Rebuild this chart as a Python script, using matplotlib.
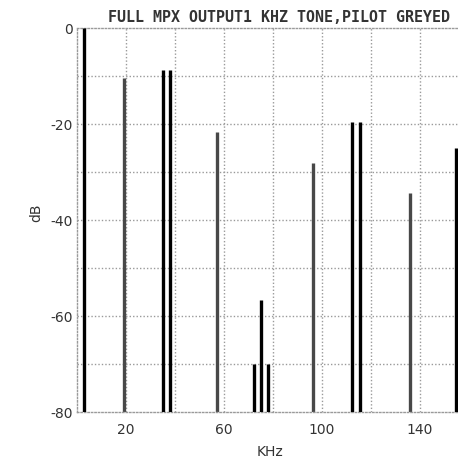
import numpy as np
import matplotlib
matplotlib.use("Agg")
from matplotlib import pyplot as plt

# spectrum lines (kHz, dB)
tone_khz = [2.8, 35.0, 38.1, 72.2, 75.3, 78.0, 112.5, 115.8, 154.9]
tone_db = [0.0, -8.7, -8.7, -70.0, -56.6, -70.0, -19.5, -19.5, -25.0]
grey_khz = [19.3, 57.0, 96.2, 136.0]
grey_db = [-10.4, -21.6, -28.2, -34.4]

xticks = [20, 60, 100, 140]
yticks = [0, -20, -40, -60, -80]

fig = plt.figure(figsize=(4.58, 4.62), dpi=100)
ax = fig.add_axes([77 / 458, 1 - 412 / 462, 1 - 77 / 458 + 0.01, 384 / 462])

ax.set_xlim(0, 157.5)
ax.set_ylim(-80, 0)

# dotted grid, every 20 kHz and every 10 dB
for gx in np.arange(20, 160, 20):
    ax.axvline(gx, color="#9a9a9a", lw=1.0, ls=(0, (1, 1.5)), zorder=1)
for gy in np.arange(-70, 0, 10):
    ax.axhline(gy, color="#9a9a9a", lw=1.0, ls=(0, (1, 1.5)), zorder=1)

ax.vlines(grey_khz, -80, grey_db, color="#484848", lw=2.4, zorder=2)
ax.vlines(tone_khz, -80, tone_db, color="black", lw=2.4, zorder=3)

for s in ["left", "top", "bottom"]:
    ax.spines[s].set_color("#9a9a9a")
    ax.spines[s].set_linestyle((0, (1, 1.5)))
    ax.spines[s].set_linewidth(1.0)
ax.spines["right"].set_visible(False)

ax.set_xticks(xticks)
ax.set_xticklabels([str(v) for v in xticks])
ax.set_yticks(yticks)
ax.set_yticklabels([str(v) for v in yticks])
ax.tick_params(length=0, labelsize=10, colors="#333333", pad=8)
ax.tick_params(axis="y", pad=3)

ax.set_xlabel("KHz", fontsize=10, color="#333333", labelpad=6)
fig.text(36 / 458, 1 - 213 / 462, "dB", fontsize=10, color="#333333",
         rotation=90, ha="center", va="center")

fig.text(108 / 458, 1 - 18 / 462, "FULL MPX OUTPUT1 KHZ TONE,PILOT GREYED",
         fontsize=10.8, fontweight="bold", family="DejaVu Sans Mono",
         color="#333333", va="center", ha="left")

fig.savefig("out.png", dpi=100)
